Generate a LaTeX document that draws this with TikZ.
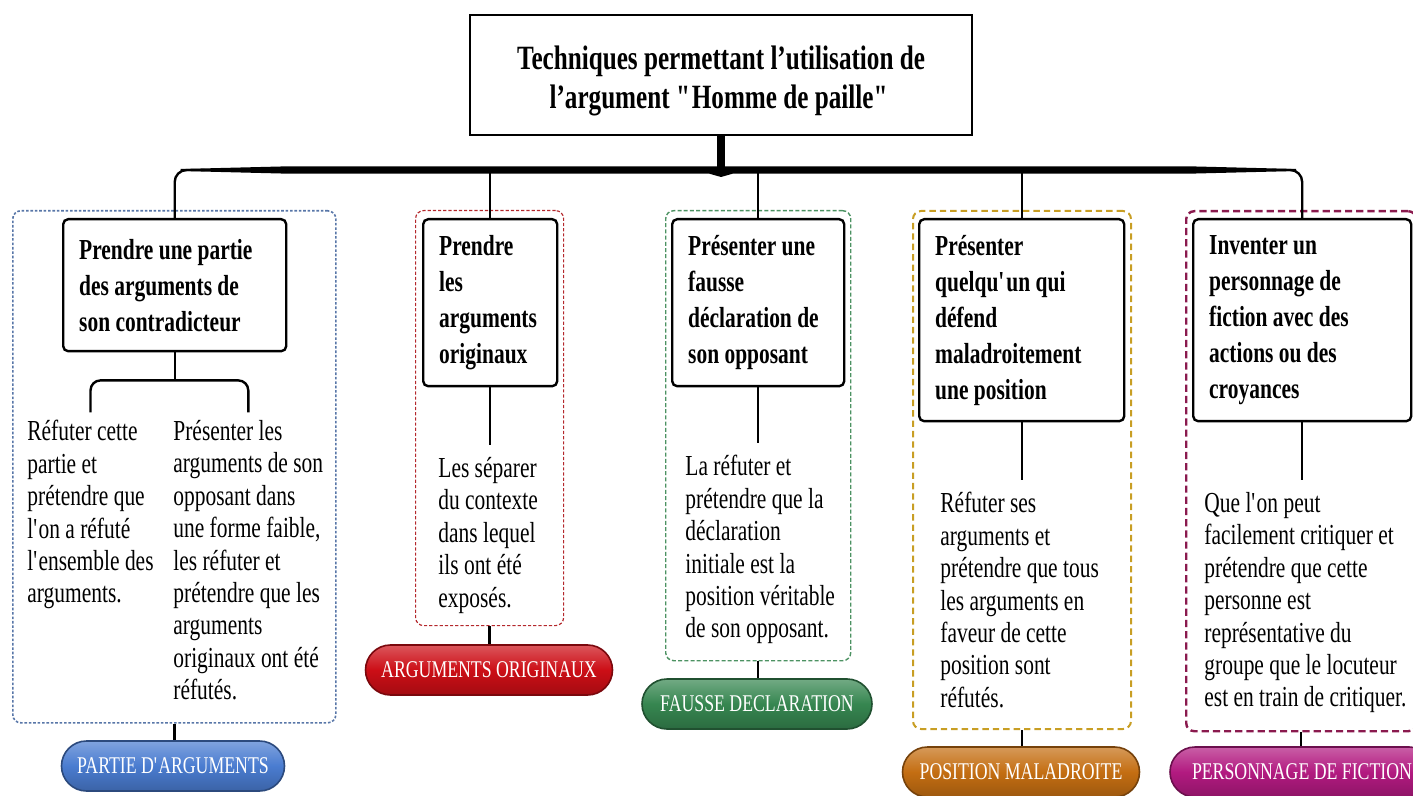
\documentclass[tikz,border=0pt]{standalone}
\usepackage{fontspec}
\setmainfont{Liberation Serif}[FakeStretch=0.74]
\usetikzlibrary{calc}

\newcommand\apo{\textquotesingle}

\definecolor{frblue}{RGB}{88,118,168}
\definecolor{frred}{RGB}{180,40,44}
\definecolor{frgreen}{RGB}{76,146,98}
\definecolor{frgold}{RGB}{200,158,36}
\definecolor{frplum}{RGB}{138,26,78}
\definecolor{tgblue}{RGB}{74,124,208}
\definecolor{tgred}{RGB}{204,14,22}
\definecolor{tggreen}{RGB}{54,134,80}
\definecolor{tgorange}{RGB}{196,110,18}
\definecolor{tgmagenta}{RGB}{178,26,128}

\begin{document}
\begin{tikzpicture}[
  x=0.5pt, y=0.5pt,
  ttl/.style ={draw,line width=1.1pt,align=center,inner sep=0,
               font=\bfseries\fontsize{17}{19.5}\selectfont},
  hd/.style  ={draw,line width=1.2pt,rounded corners=2.5pt,anchor=north west,
               align=flush left,inner xsep=8pt,inner ysep=0pt,fill=white,
               font=\bfseries\fontsize{14.5}{18}\selectfont},
  txt/.style ={anchor=north west,align=left,inner sep=0,
               font=\fontsize{14.5}{16.2}\selectfont},
  grp/.style ={draw,rounded corners=4pt,anchor=north west,inner sep=0},
  tag/.style ={rounded corners=12.5pt,minimum height=25pt,inner sep=0,text=white,
               font=\fontsize{12}{14}\selectfont,line width=0.8pt},
  ln/.style  ={draw,line width=1.2pt},
]
\useasboundingbox (0,0) rectangle (1413,-796);

% ------------------------------------------------------------ dashed groups
\node[grp,draw=frblue,line width=0.8pt,dash pattern=on 1.3pt off 0.9pt,
      minimum width=161.5pt,minimum height=256pt] (g1) at (12,-210) {};
\node[grp,draw=frred,line width=0.6pt,dash pattern=on 1.6pt off 1pt,
      minimum width=74pt,minimum height=207.5pt] (g2) at (415,-210) {};
\node[grp,draw=frgreen,line width=0.7pt,dash pattern=on 2pt off 1.1pt,
      minimum width=92.5pt,minimum height=225pt] (g3) at (665,-210) {};
\node[grp,draw=frgold,line width=1pt,dash pattern=on 3.2pt off 2pt,
      minimum width=109pt,minimum height=259pt] (g4) at (912,-210) {};
\node[grp,draw=frplum,line width=1.2pt,dash pattern=on 3.6pt off 2pt,
      minimum width=115pt,minimum height=260pt] (g5) at (1185,-210) {};

% ------------------------------------------------------------ title and heads
\node[ttl,minimum width=251pt,minimum height=60pt] (title) at (721,-75)
  {\rule{0pt}{18pt}Techniques permettant l’utilisation de\\
   l’argument \textquotedbl\kern-1.5pt Homme de paille\textquotedbl};

\node[hd,text width=95.5pt,minimum height=66pt] (b1) at (62,-218)
  {Prendre une partie\\des arguments de\\son contradicteur};
\node[hd,text width=51pt,minimum height=83.5pt] (b2) at (422,-218)
  {Prendre\\les\\arguments\\originaux};
\node[hd,text width=70pt,minimum height=83.5pt] (b3) at (671,-218)
  {Présenter une\\fausse\\déclaration de\\son opposant};
\node[hd,text width=86.5pt,minimum height=101pt] (b4) at (918,-218)
  {Présenter\\quelqu\apo un qui\\défend\\maladroitement\\une position};
\node[hd,text width=93pt,minimum height=101pt] (b5) at (1192,-218)
  {Inventer un\\personnage de\\fiction avec des\\actions ou des\\croyances};

% brace from the title down to the five heads
\coordinate (bar) at (721,-170);
\draw[line width=3.6pt] (title.south) -- (bar);
\fill ($(b1.north |- bar)+(6,1)$) -- ($(b1.north |- bar)+(110,3.6)$)
   -- ($(b5.north |- bar)+(-110,3.6)$) -- ($(b5.north |- bar)+(-6,1)$)
   -- ($(b5.north |- bar)+(-6,-1)$) -- ($(b5.north |- bar)+(-110,-3.6)$)
   -- ($(bar)+(12,-3.6)$) -- ($(bar)+(0,-7)$) -- ($(bar)+(-12,-3.6)$)
   -- ($(b1.north |- bar)+(110,-3.6)$) -- ($(b1.north |- bar)+(6,-1)$) -- cycle;
\draw[ln,rounded corners=6pt] (b1.north) |- ($(b1.north |- bar)+(30,0)$);
\draw[ln,rounded corners=6pt] (b5.north) |- ($(b5.north |- bar)+(-30,0)$);
\foreach \i in {2,3,4}
  \draw[ln] (b\i.north) -- (b\i.north |- bar);

% ------------------------------------------------------------ explanations
\node[txt] (t1a) at (27,-420)
  {Réfuter cette\\partie et\\prétendre que\\l\apo on a réfuté\\l\apo ensemble des\\arguments.};
\node[txt] (t1b) at (173,-420)
  {Présenter les\\arguments de son\\opposant dans\\une forme faible,\\les réfuter et\\prétendre que les\\arguments\\originaux ont été\\réfutés.};
\node[txt] (t2) at (438,-457)
  {Les séparer\\du contexte\\dans lequel\\ils ont été\\exposés.};
\node[txt] (t3) at (685,-455)
  {La réfuter et\\prétendre que la\\déclaration\\initiale est la\\position véritable\\de son opposant.};
\node[txt] (t4) at (940,-492)
  {Réfuter ses\\arguments et\\prétendre que tous\\les arguments en\\faveur de cette\\position sont\\réfutés.};
\node[txt] (t5) at (1204,-492)
  {Que l\apo on peut\\facilement critiquer et\\prétendre que cette\\personne est\\représentative du\\groupe que le locuteur\\est en train de critiquer.};

% fork under the first head, single stems under the others
\coordinate (fk) at ($(b1.south)+(0,-28)$);
\draw[ln] (b1.south) -- (fk);
\draw[ln,rounded corners=5pt] ($(fk -| t1a.north)+(0,-32)$) |- (fk)
  -| ($(fk -| t1b.north)+(0,-32)$);
\foreach \i in {2,...,5}
  \draw[ln,shorten >=6pt] (b\i.south) -- (b\i.south |- t\i.north);

% ------------------------------------------------------------ coloured tags
\foreach \i/\cx/\cy/\w/\c/\t in {
    1/173/-766/111.5/tgblue/{PARTIE D\apo ARGUMENTS},
    2/489/-670/123.5/tgred/{ARGUMENTS ORIGINAUX},
    3/757/-704/115/tggreen/{FAUSSE DECLARATION},
    4/1021/-772/118.5/tgorange/{POSITION MALADROITE},
    5/1302/-772/132/tgmagenta/{PERSONNAGE DE FICTION}} {
  \node[tag,minimum width=\w pt,top color=\c!70!white,bottom color=\c!80!black,
        middle color=\c,draw=\c!60!black] (bd\i) at (\cx,\cy) {\t};
  \draw[ln] (g\i.south) -- (g\i.south |- bd\i.north);
}

\end{tikzpicture}
\end{document}
